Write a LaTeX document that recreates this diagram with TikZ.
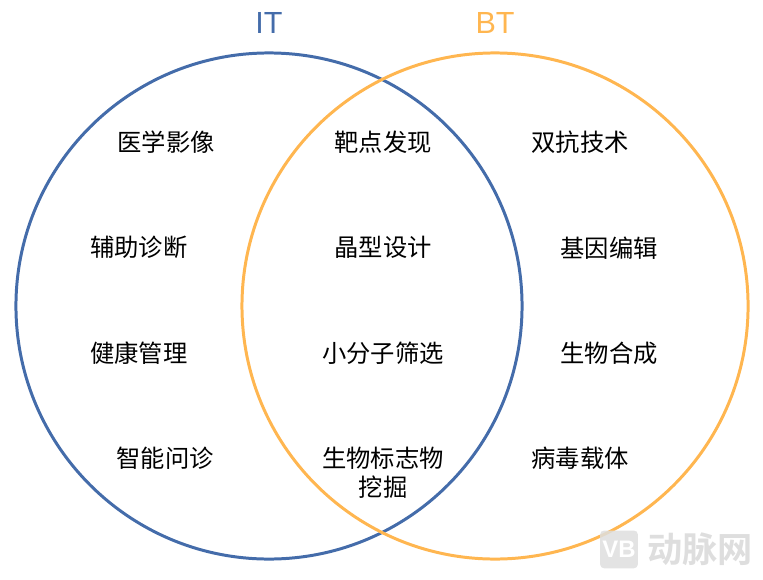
\documentclass[tikz,border=0pt]{standalone}
\usepackage{fontspec}
\setmainfont{Liberation Sans}
\newfontfamily\cjk{Noto Sans CJK SC}
\newfontfamily\cjkbold{Noto Sans CJK SC Bold}
\usetikzlibrary{positioning}
\definecolor{itblue}{RGB}{68,108,170}
\definecolor{btorange}{RGB}{255,182,80}
\definecolor{markgray}{RGB}{222,222,222}
\tikzset{
  setcircle/.style={circle, draw, line width=2.25pt, minimum size=13.39cm, inner sep=0pt},
  settitle/.style={font=\fontsize{23}{27}\selectfont},
  item/.style={on grid, font=\cjk\fontsize{18.3}{21.75}\selectfont, align=center, text=black}
}
\begin{document}
\begin{tikzpicture}
      \useasboundingbox (-7.117,-7.223) rectangle (13.07,8.096);
      \node[setcircle, draw=itblue] (IT) {};
      \node[setcircle, draw=btorange, on grid, right=5.98cm of IT] (BT) {};
      \node[settitle, text=itblue, on grid, above=7.49cm of IT] (ITtitle) {IT};
      \node[settitle, text=btorange, on grid, above=7.49cm of BT] (BTtitle) {BT};

      \node[item, above right=4.34cm and 3.02cm of IT] (Target) {靶点发现};
      \node[item, below=2.80cm of Target] (Crystal) {晶型设计};
      \node[item, below=2.79cm of Crystal] (Screen) {小分子筛选};
      \node[item, below=3.16cm of Screen] (Marker) {生物标志物\\挖掘};

      \node[item, left=5.74cm of Target] (Imaging) {医学影像};
      \node[item, left=6.46cm of Crystal] (Diagnosis) {辅助诊断};
      \node[item, left=6.46cm of Screen] (Health) {健康管理};
      \node[item, above left=0.37cm and 5.77cm of Marker] (Inquiry) {智能问诊};

      \node[item, right=5.21cm of Target] (Bispecific) {双抗技术};
      \node[item, right=5.98cm of Crystal] (Editing) {基因编辑};
      \node[item, right=5.98cm of Screen] (Synthesis) {生物合成};
      \node[item, above right=0.37cm and 5.21cm of Marker] (Vector) {病毒载体};

      % watermark
      \node[on grid, below right=6.44cm and 9.26cm of IT, fill=markgray, fill opacity=0.85, rounded corners=3pt,
        minimum size=1cm, inner sep=0pt, text opacity=1, text=white, font=\bfseries\fontsize{18}{18}\selectfont] (Logo) {VB};
      \node[on grid, right=2.14cm of Logo, text=markgray, font=\cjkbold\fontsize{26.5}{30}\selectfont] (Mark) {动脉网};
    \end{tikzpicture}
\end{document}
